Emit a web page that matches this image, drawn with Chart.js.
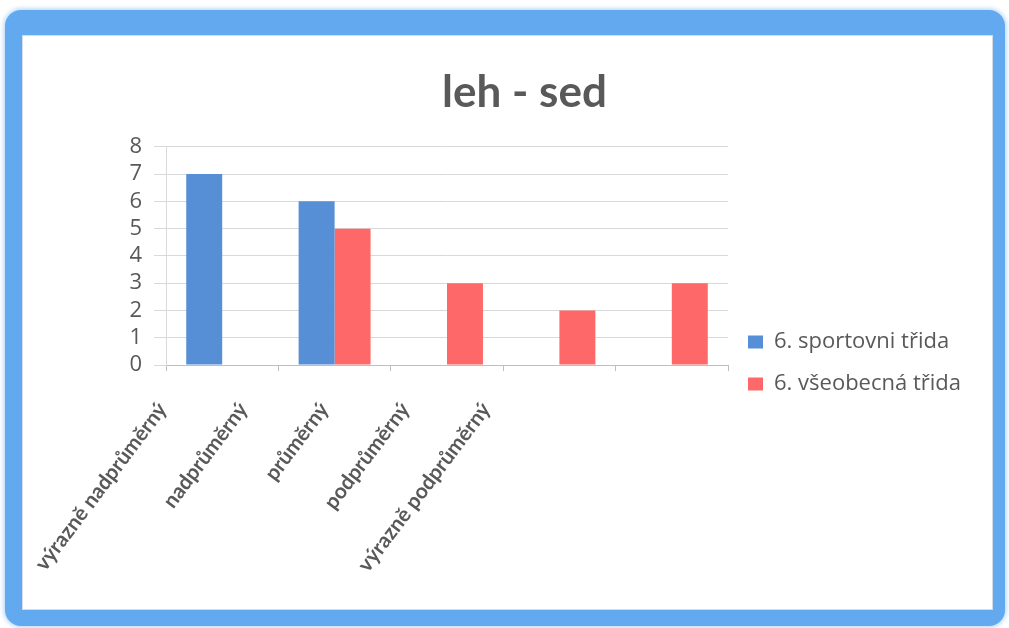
<!DOCTYPE html>
<html lang="cs">
<head>
<meta charset="utf-8">
<title>leh - sed</title>
<script src="https://cdn.jsdelivr.net/npm/chart.js@4.4.1/dist/chart.umd.min.js"></script>
<style>
  html, body { margin: 0; padding: 0; background: #ffffff; }
  body { width: 1009px; height: 628px; position: relative; overflow: hidden; }
  .frame {
    position: absolute; left: 5px; top: 10px; width: 971px; height: 575px;
    border-style: solid; border-color: #63a9ef;
    border-width: 25px 12px 16px 17px;
    border-radius: 16px;
    background: #ffffff;
    box-shadow: 0 0 5px 1px #a9d1f8, inset 0 0 0 1px #d3dce6;
  }
  #wrap { position: absolute; left: 0; top: 0; width: 1009px; height: 628px; }
</style>
</head>
<body>
<div class="frame"></div>
<div id="wrap"><canvas id="chart" width="1009" height="628"></canvas></div>
<script>
// Performance categories for the sit-up test
const categories = ['výrazně nadprůměrný', 'nadprůměrný', 'průměrný', 'podprůměrný', 'výrazně podprůměrný'];
// Number of pupils in each category
const sportClass = [7, 6, 0, 0, 0];
const generalClass = [0, 5, 3, 2, 3];
const seriesNames = ['6. sportovni třida', '6. všeobecná třida'];
const yTicks = [0, 1, 2, 3, 4, 5, 6, 7, 8];

const TEXT = '#595959';
const TITLE_FONT = 'Lato, "Open Sans", sans-serif';
const FONT = '"Open Sans", Lato, sans-serif';

// Category names are drawn slanted, packed closer together than the bars
const slantedLabels = {
  id: 'slantedLabels',
  afterDraw(chart) {
    const xs = chart.scales.x;
    const ctx = chart.ctx;
    const half = (xs.right - xs.left) / categories.length / 2;
    ctx.save();
    ctx.font = 'bold 21px ' + TITLE_FONT;
    ctx.fillStyle = TEXT;
    ctx.textAlign = 'right';
    ctx.textBaseline = 'top';
    categories.forEach((name, i) => {
      const x = xs.left + (xs.getPixelForValue(i) - half - xs.left) * 0.72 - 12;
      const y = xs.top + 34;
      ctx.save();
      ctx.translate(x, y);
      ctx.rotate(-53 * Math.PI / 180);
      ctx.fillText(name, 0, 0);
      ctx.restore();
    });
    ctx.restore();
  }
};

function drawChart() {
  new Chart(document.getElementById('chart'), {
    type: 'bar',
    data: {
      labels: categories,
      datasets: [
        { label: seriesNames[0], data: sportClass, backgroundColor: '#568fd6', borderWidth: 0 },
        { label: seriesNames[1], data: generalClass, backgroundColor: '#ff6868', borderWidth: 0 }
      ]
    },
    options: {
      responsive: false,
      animation: false,
      events: [],
      layout: { padding: { left: 78, top: 40, right: 38, bottom: 213 } },
      datasets: { bar: { categoryPercentage: 0.64, barPercentage: 1.0 } },
      scales: {
        x: {
          grid: { display: true, drawOnChartArea: false, drawTicks: true, tickLength: 6, color: '#bfbfbf', offset: true },
          border: { display: true, color: '#bfbfbf' },
          ticks: { display: false },
          afterFit(scale) { scale.height = 50; }
        },
        y: {
          min: 0, max: 8,
          afterBuildTicks(scale) { scale.ticks = yTicks.map(v => ({ value: v })); },
          grid: { color: '#d9d9d9', drawTicks: true, tickLength: 12 },
          border: { display: true, color: '#d9d9d9' },
          ticks: { color: TEXT, font: { family: FONT, size: 22 }, padding: 12, autoSkip: false },
          afterFit(scale) { scale.width = 88; }
        }
      },
      plugins: {
        title: {
          display: true,
          text: 'leh - sed',
          color: TEXT,
          font: { family: TITLE_FONT, size: 44, weight: 'bold' },
          padding: { top: 26, bottom: 28 }
        },
        legend: {
          position: 'right',
          align: 'end',
          maxWidth: 320,
          labels: {
            color: TEXT,
            font: { family: FONT, size: 22 },
            boxWidth: 15,
            boxHeight: 13,
            padding: 20
          }
        },
        tooltip: { enabled: false }
      }
    },
    plugins: [slantedLabels]
  });
}

// Make sure the installed faces are ready before text is measured
Promise.all([
  document.fonts.load('22px "Open Sans"'),
  document.fonts.load('bold 44px Lato'),
  document.fonts.load('bold 21px Lato')
]).then(drawChart, drawChart);
</script>
</body>
</html>
